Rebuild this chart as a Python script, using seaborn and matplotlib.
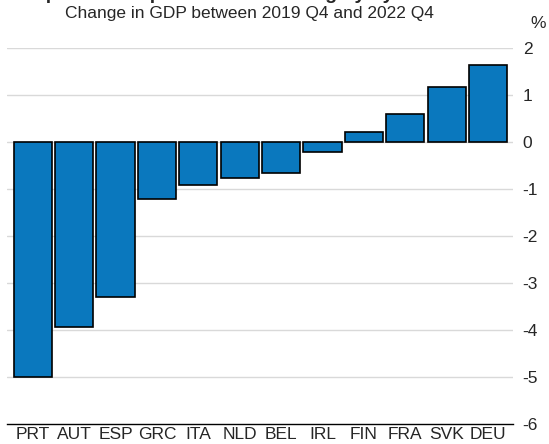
import matplotlib
matplotlib.use('Agg')
import matplotlib.pyplot as plt
import seaborn as sns
import pandas as pd

# dados
paises = ['PRT', 'AUT', 'ESP', 'GRC', 'ITA', 'NLD', 'BEL', 'IRL', 'FIN', 'FRA', 'SVK', 'DEU']
variacao_pib = [-5.0, -3.93, -3.3, -1.21, -0.91, -0.76, -0.67, -0.21, 0.22, 0.59, 1.17, 1.63]
ticks_y = [-6, -5, -4, -3, -2, -1, 0, 1, 2]

df = pd.DataFrame({'pais': paises, 'valor': variacao_pib})

sns.set_style('white')
plt.rcParams['font.family'] = ['Liberation Sans', 'DejaVu Sans']

fig = plt.figure(figsize=(5.49, 4.44), dpi=100)
ax = fig.add_axes([0.0128, 0.045, 0.9216, 0.847])

sns.barplot(data=df, x='pais', y='valor', color='#0a78be', saturation=1,
            edgecolor='black', linewidth=1.2, width=0.92, ax=ax, zorder=3)

ax.set_ylim(-6, 2)
ax.set_xlim(-0.62, 11.6)
ax.set_yticks(ticks_y)
ax.set_yticklabels([str(t) for t in ticks_y])
ax.yaxis.tick_right()
ax.tick_params(axis='y', length=0, pad=7, labelsize=12.5)
ax.tick_params(axis='x', length=0, pad=2, labelsize=12.5)
ax.set_xlabel('')
ax.set_ylabel('')

for t in ticks_y[1:]:
    ax.axhline(t, color='#d9d9d9', linewidth=1, zorder=1)

for lado in ['top', 'left', 'right']:
    ax.spines[lado].set_visible(False)
ax.spines['bottom'].set_color('black')
ax.spines['bottom'].set_linewidth(1)

# título cortado no topo, como na imagem original
fig.text(0.5, 1.003, 'Impact of the pandemic varies highly by member state',
         ha='center', va='baseline', fontsize=14, fontweight='bold')
fig.text(0.455, 0.97, 'Change in GDP between 2019 Q4 and 2022 Q4',
         ha='center', va='center', fontsize=12.5)
fig.text(0.98, 0.948, '%', ha='center', va='center', fontsize=12.5)

fig.savefig('out.png', dpi=100)
